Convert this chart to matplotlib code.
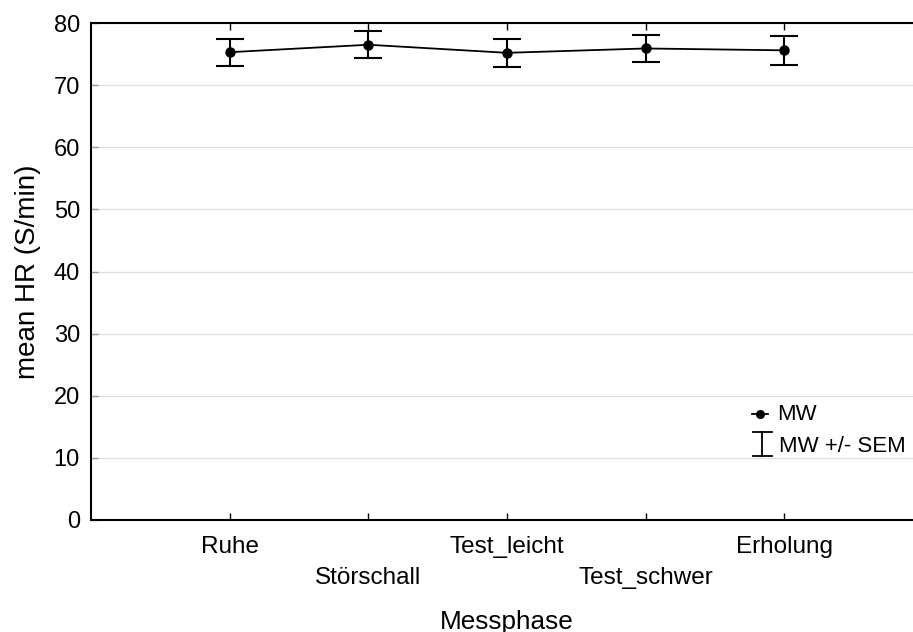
import matplotlib
matplotlib.use("Agg")
import matplotlib.pyplot as plt
from matplotlib.lines import Line2D

plt.rcParams['font.family'] = ['Liberation Sans', 'DejaVu Sans']

categories = ["Ruhe", "Störschall", "Test_leicht", "Test_schwer", "Erholung"]
mw = [75.3, 76.5, 75.2, 75.9, 75.6]
sem = [2.2, 2.2, 2.3, 2.2, 2.3]

W, H = 913, 632
fig = plt.figure(figsize=(W / 100, H / 100), dpi=100)
ax = fig.add_axes([91 / W, 112 / H, (923 - 91) / W, (520 - 23) / H])

x = list(range(1, len(categories) + 1))
ax.errorbar(x, mw, yerr=sem, fmt='-o', color='black', ms=6.5, lw=1.3,
            elinewidth=1.5, capsize=10, capthick=1.5, zorder=3)

ax.set_xlim(0, 6)
ax.set_ylim(0, 80)
ax.set_yticks(range(0, 81, 10))
ax.yaxis.grid(True, color='#dddddd', lw=0.9)
ax.set_axisbelow(True)
ax.set_xticks(x)
ax.set_xticklabels(categories)
for i, t in enumerate(ax.get_xticklabels()):
    if i % 2 == 1:
        t.set_y(-0.062)
ax.tick_params(axis='x', direction='in', top=True, length=5, width=1, labelsize=17.5, pad=11.5)
ax.tick_params(axis='y', direction='in', length=5, width=1, labelsize=17, pad=8, color='#999999')
for s in ax.spines.values():
    s.set_linewidth(1.5)
ax.set_xlabel("Messphase", fontsize=18.8, labelpad=15)
ax.set_ylabel("mean HR (S/min)", fontsize=20, labelpad=9)

# legend glyphs (figure pixel coordinates)
def fx(xp):
    return xp / W
def fy(yp):
    return 1 - yp / H
tr = fig.transFigure
fig.lines.append(Line2D([fx(752), fx(768)], [fy(414)] * 2, color='black', lw=1.3, transform=tr))
fig.lines.append(Line2D([fx(760)], [fy(414)], marker='o', ms=5.5, color='black', transform=tr))
fig.text(fx(777), fy(414), "MW", fontsize=16, va='center', ha='left')
fig.lines.append(Line2D([fx(762)] * 2, [fy(432), fy(456)], color='black', lw=1.3, transform=tr))
fig.lines.append(Line2D([fx(753), fx(772)], [fy(432)] * 2, color='black', lw=1.3, transform=tr))
fig.lines.append(Line2D([fx(753), fx(772)], [fy(456)] * 2, color='black', lw=1.3, transform=tr))
fig.text(fx(779), fy(446), "MW +/- SEM", fontsize=16, va='center', ha='left')

fig.savefig("out.png", dpi=100)
